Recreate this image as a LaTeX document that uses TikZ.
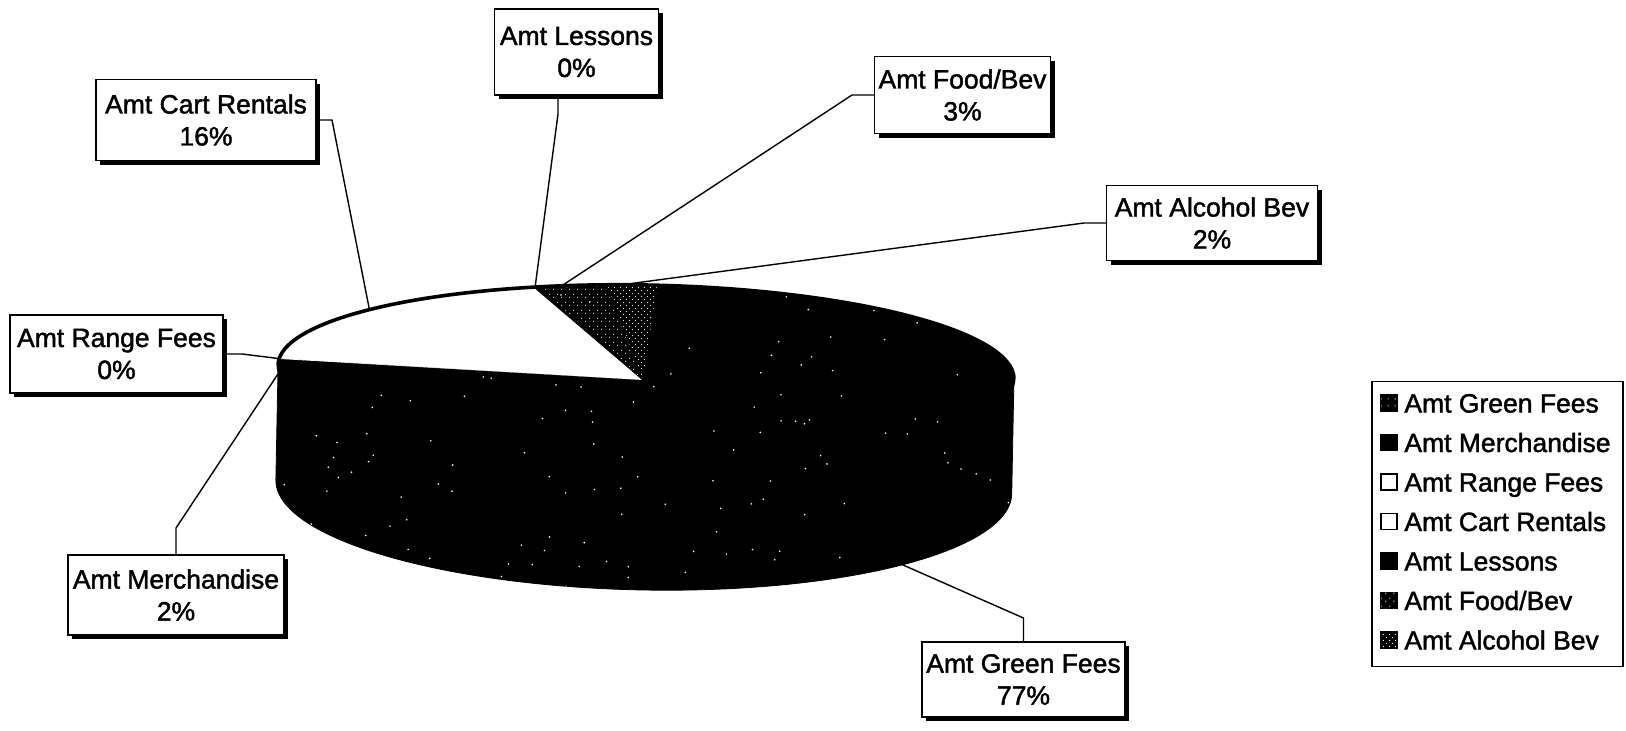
\documentclass[tikz,border=0pt]{standalone}
\usepackage{fontspec}
\setmainfont{Liberation Sans}
\newfontfamily\lblfont{Liberation Sans}[FakeBold=1.6]
\usetikzlibrary{shadows,patterns.meta}
\tikzdeclarepattern{name=fdots,type=uncolored,bottom left={(0pt,0pt)},top right={(4pt,4pt)},tile size={(4pt,4pt)},
  code={\pgfpathcircle{\pgfpoint{1pt}{1pt}}{0.36pt}\pgfpathcircle{\pgfpoint{3pt}{2.6pt}}{0.3pt}\pgfusepath{fill}}}
\tikzdeclarepattern{name=adots,type=uncolored,bottom left={(0pt,0pt)},top right={(3.2pt,3.2pt)},tile size={(3.2pt,3.2pt)},
  code={\pgfpathcircle{\pgfpoint{0.8pt}{0.8pt}}{0.3pt}\pgfpathcircle{\pgfpoint{2.4pt}{2.4pt}}{0.3pt}\pgfusepath{fill}}}
\tikzdeclarepattern{name=gdots,type=uncolored,bottom left={(0pt,0pt)},top right={(3.5pt,3.5pt)},tile size={(3.5pt,3.5pt)},
  code={\pgfpathcircle{\pgfpoint{1.2pt}{1.7pt}}{0.35pt}\pgfusepath{fill}}}
\def\pieRX{368}
\def\pieRY{87}
\def\pieD{115}
\def\pieRB{103}
\newcommand\pieWedge[2]{%
  (-3,8) -- plot[domain=#1:#2,samples=60] ({\pieRX*cos(\x)},{\pieRY*sin(\x)}) -- cycle}
\begin{document}
\begin{tikzpicture}[x=0.5pt,y=-0.5pt,
  lbl/.style={draw=black, line width=0.75pt, fill=white, align=center,
    font=\lblfont\fontsize{13.25}{16}\selectfont, inner sep=0pt,
    drop shadow={shadow xshift=2pt, shadow yshift=-2pt, fill=black, opacity=1}},
  leader/.style={draw=black, line width=0.7pt},
  legtxt/.style={anchor=base west, font=\lblfont\fontsize{13.25}{16}\selectfont, inner sep=0pt},
  legsq/.style={draw=black, line width=0.7pt, minimum size=8pt, inner sep=0pt},
  dark/.style={fill=black, draw=black, line width=0.4pt, line join=round}]
\useasboundingbox (0,0) rectangle (1626,730);
\fill[white] (0,0) rectangle (1626,730);

% ---- pie ----
\begin{scope}[shift={(646,372)},rotate=-1.1]
  % side (front half of the cylinder)
  \path[dark] (-\pieRX,0) -- (-\pieRX,\pieD)
     -- plot[domain=180:0,samples=90] ({\pieRX*cos(\x)},{\pieD+\pieRB*sin(\x)})
     -- (\pieRX,0)
     -- plot[domain=0:180,samples=90] ({\pieRX*cos(\x)},{\pieRY*sin(\x)}) -- cycle;
  % top face slices
  \path[dark] \pieWedge{-88.3}{178};    % Green Fees
  \path[dark] \pieWedge{177}{184};      % Merchandise
  \fill[white] \pieWedge{184}{184.5};   % Range Fees
  \fill[white] \pieWedge{184.5}{252};   % Cart Rentals
  \path[dark] \pieWedge{252}{252.5};    % Lessons
  \path[dark] \pieWedge{252.5}{263.5};  % Food/Bev
  \fill[pattern=fdots, pattern color=white] \pieWedge{252.8}{263.3};
  \path[dark] \pieWedge{263.5}{271.7};  % Alcohol Bev
  \fill[pattern=adots, pattern color=white] \pieWedge{263.7}{271.5};
  % front rim (hides the seam between top and side)
  \draw[black, line width=1.5pt] plot[domain=0:180,samples=120] ({\pieRX*cos(\x)},{\pieRY*sin(\x)});
  % speckles on the dark surface
  \begin{scope}
    \clip (-\pieRX,0) -- (-\pieRX,\pieD)
     -- plot[domain=180:0,samples=90] ({\pieRX*cos(\x)},{\pieD+\pieRB*sin(\x)})
     -- (\pieRX,0)
     -- plot[domain=0:-180,samples=90] ({\pieRX*cos(\x)},{\pieRY*sin(\x)}) -- cycle;
    \pgfmathsetseed{5}
    \foreach \i in {1,...,150}{
      \pgfmathsetmacro\sx{rnd*740-370}
      \pgfmathsetmacro\sy{rnd*310-90}
      \fill[white] (\sx,\sy) circle[radius=0.9];
    }
  \end{scope}
  % back rim of the top face
  \draw[black, line width=1.8pt] plot[domain=180:360,samples=120] ({\pieRX*cos(\x)},{\pieRY*sin(\x)});
  % leader end points on the pie
  \coordinate (pGreen) at ({\pieRX*cos(45)},{\pieD+\pieRB*sin(45)});
  \coordinate (pMerch) at (-366,6);
  \coordinate (pRange) at ({\pieRX*cos(184.2)},{\pieRY*sin(184.2)});
  \coordinate (pCart) at ({\pieRX*cos(221)},{\pieRY*sin(221)});
  \coordinate (pLes) at ({\pieRX*cos(252.2)},{\pieRY*sin(252.2)});
  \coordinate (pFood) at ({\pieRX*cos(256.5)},{\pieRY*sin(256.5)});
  \coordinate (pAlc) at ({\pieRX*cos(266)},{\pieRY*sin(266)});
\end{scope}

% ---- labels ----
\node[lbl, minimum width=110pt, minimum height=40.5pt] (cart) at (206,120) {Amt Cart Rentals\\16\%};
\node[lbl, minimum width=82pt, minimum height=43pt] (les) at (576.5,52) {Amt Lessons\\0\%};
\node[lbl, minimum width=88pt, minimum height=38.5pt] (food) at (962.5,95) {Amt Food/Bev\\3\%};
\node[lbl, minimum width=105.5pt, minimum height=37.5pt] (alc) at (1212,223) {Amt Alcohol Bev\\2\%};
\node[lbl, minimum width=106.5pt, minimum height=39pt] (range) at (116.5,354) {Amt Range Fees\\0\%};
\node[lbl, minimum width=108pt, minimum height=40pt] (merch) at (176,595) {Amt Merchandise\\2\%};
\node[lbl, minimum width=101.5pt, minimum height=37.5pt] (green) at (1023.5,679.5) {Amt Green Fees\\77\%};

% ---- leader bends ----
\coordinate (bCart) at (332,120);
\coordinate (bLes) at (558,114);
\coordinate (bFood) at (852,95);
\coordinate (bAlc) at (1084,223);
\coordinate (bRange) at (242,354);
\coordinate (bMerch) at (176,528);
\coordinate (bGreen) at (1023.5,618);

\draw[leader] (cart.east) -- (bCart) -- (pCart);
\draw[leader] (bLes |- les.south) -- (bLes) -- (pLes);
\draw[leader] (food.west) -- (bFood) -- (pFood);
\draw[leader] (alc.west) -- (bAlc) -- (pAlc);
\draw[leader] (range.east) -- (bRange) -- (pRange);
\draw[leader] (merch.north) -- (bMerch) -- (pMerch);
\draw[leader] (green.north) -- (bGreen) -- (pGreen);

% ---- legend ----
\node[draw=black, line width=0.7pt, minimum width=125.5pt, minimum height=142.5pt, inner sep=0pt] (legend) at (1497.5,524) {};
\node[legsq, fill=black, postaction={pattern=gdots, pattern color=white}] (q1) at (1389,403) {};
\node[legsq, fill=black] (q2) at (1389,442.5) {};
\node[legsq, fill=white] (q3) at (1389,482) {};
\node[legsq, fill=white] (q4) at (1389,521.5) {};
\node[legsq, fill=black] (q5) at (1389,561) {};
\node[legsq, fill=black, postaction={pattern=fdots, pattern color=white}] (q6) at (1389,600.5) {};
\node[legsq, fill=black, postaction={pattern=adots, pattern color=white}] (q7) at (1389,640) {};
\node[legtxt] (t1) at (1404,412.5) {Amt Green Fees};
\node[legtxt] (t2) at (1404,452) {Amt Merchandise};
\node[legtxt] (t3) at (1404,491.5) {Amt Range Fees};
\node[legtxt] (t4) at (1404,531) {Amt Cart Rentals};
\node[legtxt] (t5) at (1404,570.5) {Amt Lessons};
\node[legtxt] (t6) at (1404,610) {Amt Food/Bev};
\node[legtxt] (t7) at (1404,649.5) {Amt Alcohol Bev};
\end{tikzpicture}
\end{document}
